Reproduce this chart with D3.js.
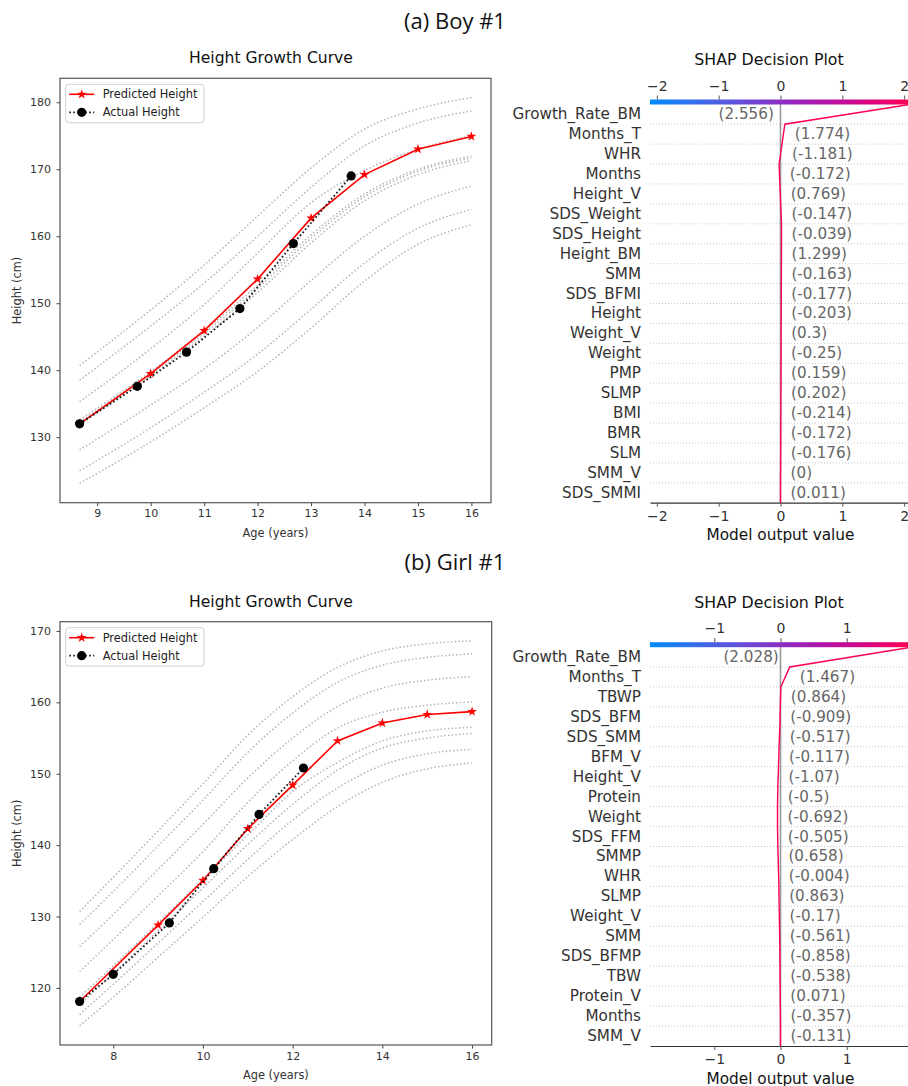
<!DOCTYPE html>
<html>
<head>
<meta charset="utf-8">
<script src="https://cdn.jsdelivr.net/npm/d3@7"></script>
<style>
body { margin: 0; background: #fff; }
svg { display: block; font-family: 'DejaVu Sans', sans-serif; }
</style>
</head>
<body>
<svg id="fig" width="908" height="1086"></svg>
<script>
// ---- (a) boy #1, growth curve ----
const boyRefAge = [8.67, 10, 11, 12, 13, 14, 15, 16];
const boyRefCurves = [
    [140.7, 149.0, 155.7, 163.0, 170.2, 176.0, 179.0, 180.7],
    [138.5, 146.6, 153.0, 160.0, 167.3, 173.5, 176.9, 178.7],
    [135.3, 143.2, 149.8, 157.5, 165.0, 169.8, 173.0, 175.0],
    [132.6, 139.8, 145.9, 152.7, 160.2, 166.3, 170.0, 172.0],
    [132.3, 139.5, 145.5, 152.2, 159.7, 165.9, 169.7, 171.7],
    [132.0, 139.2, 145.1, 151.6, 159.0, 165.3, 169.2, 171.3],
    [128.1, 134.8, 140.2, 146.4, 153.4, 160.0, 164.8, 167.5],
    [125.0, 131.4, 136.7, 142.4, 149.1, 156.0, 161.2, 164.0],
    [123.1, 129.3, 134.4, 139.8, 146.3, 153.3, 158.8, 161.7],
];
const boyPredAge = [8.67, 10, 11, 12, 13, 14, 15, 16];
const boyPredHeight = [132.0, 139.5, 145.9, 153.6, 162.7, 169.2, 173.0, 174.9];
const boyActualAge = [8.67, 9.75, 10.67, 11.67, 12.67, 13.75];
const boyActualHeight = [132.0, 137.6, 142.7, 149.2, 158.9, 169.0];
const boyXTicks = [9, 10, 11, 12, 13, 14, 15, 16];
const boyYTicks = [130, 140, 150, 160, 170, 180];

// ---- (b) girl #1, growth curve ----
const girlRefAge = [7.25, 8, 9, 10, 11, 12, 13, 14, 15, 16];
const girlRefCurves = [
    [130.7, 135.5, 142.0, 148.6, 155.4, 160.8, 164.9, 167.2, 168.2, 168.6],
    [128.9, 133.5, 139.9, 146.3, 153.0, 158.5, 162.8, 165.2, 166.3, 166.8],
    [125.8, 130.3, 136.6, 142.9, 149.4, 155.0, 159.4, 162.0, 163.1, 163.6],
    [122.3, 126.8, 132.9, 139.1, 146.0, 151.8, 156.4, 158.6, 159.6, 160.05],
    [118.7, 123.1, 129.1, 135.2, 141.4, 147.5, 151.6, 154.6, 156.0, 156.5],
    [117.6, 122.0, 128.0, 134.0, 140.1, 145.7, 150.5, 153.6, 155.0, 155.65],
    [116.3, 120.5, 126.3, 132.1, 138.0, 143.5, 148.0, 151.2, 152.8, 153.4],
    [114.7, 118.7, 124.3, 129.9, 135.6, 140.8, 145.4, 148.8, 150.7, 151.5],
];
const girlPredAge = [7.25, 9, 10, 11, 12, 13, 14, 15, 16];
const girlPredHeight = [118.1, 128.8, 135.05, 142.3, 148.4, 154.6, 157.1, 158.3, 158.7];
const girlActualAge = [7.25, 8.0, 9.25, 10.24, 11.25, 12.24];
const girlActualHeight = [118.1, 121.9, 129.1, 136.7, 144.3, 150.8];
const girlXTicks = [8, 10, 12, 14, 16];
const girlYTicks = [120, 130, 140, 150, 160, 170];

// ---- SHAP decision plots (features top to bottom, path bottom to top) ----
const boyFeatures = ['Growth_Rate_BM', 'Months_T', 'WHR', 'Months', 'Height_V', 'SDS_Weight',
    'SDS_Height', 'Height_BM', 'SMM', 'SDS_BFMI', 'Height', 'Weight_V', 'Weight', 'PMP',
    'SLMP', 'BMI', 'BMR', 'SLM', 'SMM_V', 'SDS_SMMI'];
const boyFeatureValues = [2.556, 1.774, -1.181, -0.172, 0.769, -0.147, -0.039, 1.299, -0.163,
    -0.177, -0.203, 0.3, -0.25, 0.159, 0.202, -0.214, -0.172, -0.176, 0, 0.011];
const boyPath = [0, 0, 0.002, 0.004, 0.005, 0.006, 0.008, 0.009, 0.01, 0.011, 0.012, 0.013,
    0.015, 0.016, 0.016, 0.003, -0.011, -0.022, 0.024, 0.07, 2.1];
const boyShapTicks = [-2, -1, 0, 1, 2];

const girlFeatures = ['Growth_Rate_BM', 'Months_T', 'TBWP', 'SDS_BFM', 'SDS_SMM', 'BFM_V',
    'Height_V', 'Protein', 'Weight', 'SDS_FFM', 'SMMP', 'WHR', 'SLMP', 'Weight_V', 'SMM',
    'SDS_BFMP', 'TBW', 'Protein_V', 'Months', 'SMM_V'];
const girlFeatureValues = [2.028, 1.467, 0.864, -0.909, -0.517, -0.117, -1.07, -0.5, -0.692,
    -0.505, 0.658, -0.004, 0.863, -0.17, -0.561, -0.858, -0.538, 0.071, -0.357, -0.131];
const girlPath = [0, 0, -0.003, -0.005, -0.008, -0.01, -0.015, -0.02, -0.025, -0.032, -0.04,
    -0.045, -0.045, -0.04, -0.03, -0.022, -0.01, -0.003, 0.005, 0.14, 2.0];
const girlShapTicks = [-1, 0, 1];

// blue -> purple -> magenta -> red, like the shap colour bar
const shapColor = d3.interpolateRgbBasis(['#008bfb', '#4f62e6', '#8a2dc4', '#c3069a', '#ff0052']);

function padded(values) {
    const [lo, hi] = d3.extent(values);
    const p = (hi - lo) * 0.05;
    return [lo - p, hi + p];
}

function renderGrowth(svg, cfg) {
    const { box } = cfg;
    const g = svg.append('g');
    const x = d3.scaleLinear()
    .domain(padded(cfg.refAge.concat(cfg.predAge, cfg.actualAge)))
    .range([box.left, box.right]);
    const y = d3.scaleLinear()
    .domain(padded(cfg.refCurves.flat().concat(cfg.predHeight, cfg.actualHeight)))
    .range([box.bottom, box.top]);

    const refLine = d3.line().curve(d3.curveMonotoneX)
    .x((d, i) => x(cfg.refAge[i]))
    .y(d => y(d));

    g.append('g')
    .selectAll('path')
    .data(cfg.refCurves)
    .enter()
    .append('path')
    .attr('d', refLine)
    .attr('fill', 'none')
    .attr('stroke', '#b4b4b4')
    .attr('stroke-width', 1.5)
    .attr('stroke-dasharray', '1.5,2.2');

    const predLine = d3.line()
    .x((d, i) => x(cfg.predAge[i]))
    .y(d => y(d));
    g.append('path')
    .datum(cfg.predHeight)
    .attr('d', predLine)
    .attr('fill', 'none')
    .attr('stroke', '#ff0000')
    .attr('stroke-width', 1.6);
    g.append('g')
    .selectAll('path')
    .data(cfg.predHeight)
    .enter()
    .append('path')
    .attr('d', d3.symbol(d3.symbolStar, 30))
    .attr('transform', (d, i) => `translate(${x(cfg.predAge[i])},${y(d)})`)
    .attr('fill', '#ff0000');

    const actLine = d3.line()
    .x((d, i) => x(cfg.actualAge[i]))
    .y(d => y(d));
    g.append('path')
    .datum(cfg.actualHeight)
    .attr('d', actLine)
    .attr('fill', 'none')
    .attr('stroke', '#111')
    .attr('stroke-width', 1.8)
    .attr('stroke-dasharray', '1.6,2.4');
    g.append('g')
    .selectAll('circle')
    .data(cfg.actualHeight)
    .enter()
    .append('circle')
    .attr('cx', (d, i) => x(cfg.actualAge[i]))
    .attr('cy', d => y(d))
    .attr('r', 4.6)
    .attr('fill', '#000');

    // axes
    const xAxis = g.append('g')
    .attr('transform', `translate(0,${box.bottom})`)
    .call(d3.axisBottom(x).tickValues(cfg.xTicks).tickSize(3.5).tickPadding(3.5).tickSizeOuter(0));
    const yAxis = g.append('g')
    .attr('transform', `translate(${box.left},0)`)
    .call(d3.axisLeft(y).tickValues(cfg.yTicks).tickSize(3.5).tickPadding(5.5).tickSizeOuter(0));
    [xAxis, yAxis].forEach((a) => {
        a.select('.domain').remove();
        a.selectAll('line').attr('stroke', '#444');
        a.selectAll('text').attr('fill', '#333').style('font-size', '11px').style('font-family', 'DejaVu Sans');
    });

    g.append('rect')
    .attr('x', box.left)
    .attr('y', box.top)
    .attr('width', box.right - box.left)
    .attr('height', box.bottom - box.top)
    .attr('fill', 'none')
    .attr('stroke', '#555')
    .attr('stroke-width', 1.2);

    g.append('text')
    .attr('x', 271)
    .attr('y', box.top - 20)
    .attr('text-anchor', 'middle')
    .attr('dominant-baseline', 'central')
    .style('font-size', '15.6px')
    .attr('fill', '#111')
    .text('Height Growth Curve');

    g.append('text')
    .attr('x', (box.left + box.right) / 2)
    .attr('y', box.bottom + 30)
    .attr('text-anchor', 'middle')
    .attr('dominant-baseline', 'central')
    .style('font-size', '11.4px')
    .attr('fill', '#333')
    .text('Age (years)');

    g.append('text')
    .attr('transform', `translate(17,${(box.top + box.bottom) / 2}) rotate(-90)`)
    .attr('text-anchor', 'middle')
    .attr('dominant-baseline', 'central')
    .style('font-size', '11.4px')
    .attr('fill', '#333')
    .text('Height (cm)');

    // legend
    const lg = g.append('g').attr('transform', `translate(${box.left + 5.7},${box.top + 6})`);
    lg.append('rect')
    .attr('width', 138.3)
    .attr('height', 38.4)
    .attr('rx', 3)
    .attr('fill', '#fff')
    .attr('stroke', '#d0d0d0');
    lg.append('line')
    .attr('x1', 3.5).attr('x2', 28.5).attr('y1', 10).attr('y2', 10)
    .attr('stroke', '#ff0000').attr('stroke-width', 1.6);
    lg.append('path')
    .attr('d', d3.symbol(d3.symbolStar, 30))
    .attr('transform', 'translate(16,10)')
    .attr('fill', '#ff0000');
    lg.append('line')
    .attr('x1', 3.5).attr('x2', 28.5).attr('y1', 28).attr('y2', 28)
    .attr('stroke', '#111').attr('stroke-width', 1.8).attr('stroke-dasharray', '1.6,2.4');
    lg.append('circle')
    .attr('cx', 16).attr('cy', 28).attr('r', 4.6).attr('fill', '#000');
    lg.selectAll('text.entry')
    .data(['Predicted Height', 'Actual Height'])
    .enter()
    .append('text')
    .attr('x', 37)
    .attr('y', (d, i) => 10 + i * 18)
    .attr('dominant-baseline', 'central')
    .style('font-size', '11.4px')
    .attr('fill', '#222')
    .text(d => d);
}

function renderDecision(svg, cfg) {
    const n = cfg.features.length;
    const g = svg.append('g');
    const x = d3.scaleLinear().domain(cfg.domain).range([cfg.left, cfg.right]);
    const y = d3.scaleLinear().domain([0, n]).range([cfg.top + n * cfg.rowH, cfg.top]);
    const bottom = y(0);

    // dotted row separators
    g.append('g')
    .selectAll('line')
    .data(d3.range(1, n))
    .enter()
    .append('line')
    .attr('x1', cfg.left)
    .attr('x2', cfg.right)
    .attr('y1', d => y(d))
    .attr('y2', d => y(d))
    .attr('stroke', '#c8c8c8')
    .attr('stroke-width', 1)
    .attr('stroke-dasharray', '1,2');

    // base value line
    g.append('line')
    .attr('x1', x(cfg.path[0]))
    .attr('x2', x(cfg.path[0]))
    .attr('y1', y(n))
    .attr('y2', bottom)
    .attr('stroke', '#999')
    .attr('stroke-width', 1.6);

    // colour bar
    const gradId = `grad${cfg.id}`;
    const grad = svg.append('defs').append('linearGradient').attr('id', gradId);
    d3.range(0, 1.01, 0.05).forEach((t) => {
        grad.append('stop').attr('offset', t).attr('stop-color', shapColor(t));
    });
    g.append('rect')
    .attr('x', cfg.left)
    .attr('y', y(n) - 4.8)
    .attr('width', cfg.right - cfg.left)
    .attr('height', 5)
    .attr('fill', `url(#${gradId})`);

    const fmt = d3.format('d');
    const topAxis = g.append('g')
    .attr('transform', `translate(0,${y(n) - 4.8})`)
    .call(d3.axisTop(x).tickValues(cfg.ticks).tickFormat(fmt).tickSize(4).tickPadding(5).tickSizeOuter(0));
    topAxis.select('.domain').remove();

    const botAxis = g.append('g')
    .attr('transform', `translate(0,${bottom})`)
    .call(d3.axisBottom(x).tickValues(cfg.ticks).tickFormat(fmt).tickSize(4).tickPadding(4).tickSizeOuter(0));
    botAxis.select('.domain').attr('stroke', '#333').attr('stroke-width', 1.2);
    [topAxis, botAxis].forEach((a) => {
        a.selectAll('line').attr('stroke', '#555');
        a.selectAll('text').attr('fill', '#333').style('font-size', '14px').style('font-family', 'DejaVu Sans');
    });

    // decision path
    const color = shapColor(x(cfg.path[n]) > x(0) ? 1 : 0);
    g.append('path')
    .datum(cfg.path)
    .attr('d', d3.line().x(d => x(d)).y((d, i) => y(i)))
    .attr('fill', 'none')
    .attr('stroke', color)
    .attr('stroke-width', 1.4);

    // feature names
    g.append('g')
    .selectAll('text')
    .data(cfg.features)
    .enter()
    .append('text')
    .attr('x', cfg.left - 9)
    .attr('y', (d, i) => y(n - i - 0.5))
    .attr('text-anchor', 'end')
    .attr('dominant-baseline', 'central')
    .style('font-size', '15.2px')
    .attr('fill', '#333')
    .text(d => d);

    // feature values next to the line
    g.append('g')
    .selectAll('text')
    .data(cfg.values)
    .enter()
    .append('text')
    .each(function (d, i) {
        const a = cfg.path[n - i - 1];
        const b = cfg.path[n - i];
        const jump = b - a > 0.5;
        d3.select(this)
        .attr('x', jump ? x(Math.min(a, b)) - 11 : x(Math.max(a, b)) + 10)
        .attr('text-anchor', jump ? 'end' : 'start');
    })
    .attr('y', (d, i) => y(n - i - 0.5))
    .attr('dominant-baseline', 'central')
    .style('font-size', '15.2px')
    .attr('fill', '#666')
    .text(d => `(${d})`);

    g.append('text')
    .attr('x', 769)
    .attr('y', y(n) - 45)
    .attr('text-anchor', 'middle')
    .attr('dominant-baseline', 'central')
    .style('font-size', '15.8px')
    .attr('fill', '#111')
    .text('SHAP Decision Plot');

    g.append('text')
    .attr('x', x(0))
    .attr('y', bottom + 32.5)
    .attr('text-anchor', 'middle')
    .attr('dominant-baseline', 'central')
    .style('font-size', '15.3px')
    .attr('fill', '#111')
    .text('Model output value');
}

const svg = d3.select('#fig');

svg.append('text')
.attr('x', 455)
.attr('y', 20)
.attr('text-anchor', 'middle')
.attr('dominant-baseline', 'central')
.style('font-family', 'Open Sans')
.style('font-size', '22px')
.attr('fill', '#111')
.text('(a) Boy #1');

svg.append('text')
.attr('x', 455)
.attr('y', 561)
.attr('text-anchor', 'middle')
.attr('dominant-baseline', 'central')
.style('font-family', 'Open Sans')
.style('font-size', '22px')
.attr('fill', '#111')
.text('(b) Girl #1');

renderGrowth(svg, {
    box: { left: 60, right: 491, top: 78.3, bottom: 502.7 },
    refAge: boyRefAge,
    refCurves: boyRefCurves,
    predAge: boyPredAge,
    predHeight: boyPredHeight,
    actualAge: boyActualAge,
    actualHeight: boyActualHeight,
    xTicks: boyXTicks,
    yTicks: boyYTicks,
});

renderGrowth(svg, {
    box: { left: 60, right: 491.7, top: 621.7, bottom: 1045 },
    refAge: girlRefAge,
    refCurves: girlRefCurves,
    predAge: girlPredAge,
    predHeight: girlPredHeight,
    actualAge: girlActualAge,
    actualHeight: girlActualHeight,
    xTicks: girlXTicks,
    yTicks: girlYTicks,
});

renderDecision(svg, {
    id: 'boy',
    left: 650,
    right: 911,
    top: 104.3,
    rowH: 19.92,
    domain: [-2.11, 2.11],
    features: boyFeatures,
    values: boyFeatureValues,
    path: boyPath,
    ticks: boyShapTicks,
});

renderDecision(svg, {
    id: 'girl',
    left: 650,
    right: 911,
    top: 647,
    rowH: 19.95,
    domain: [-1.97, 1.97],
    features: girlFeatures,
    values: girlFeatureValues,
    path: girlPath,
    ticks: girlShapTicks,
});
</script>
</body>
</html>
